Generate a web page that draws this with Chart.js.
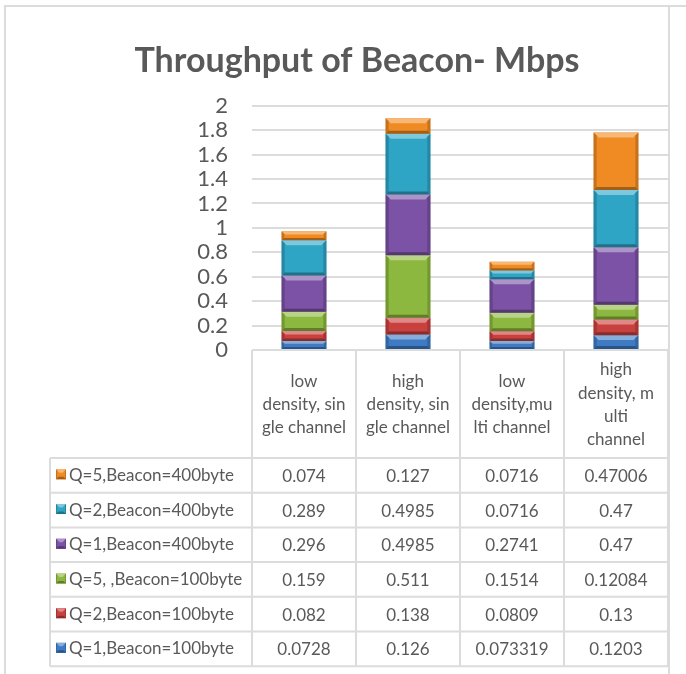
<!DOCTYPE html>
<html>
<head>
<meta charset="utf-8">
<title>Throughput of Beacon- Mbps</title>
<script src="https://cdn.jsdelivr.net/npm/chart.js@4.4.1/dist/chart.umd.min.js"></script>
<style>
  html, body { margin: 0; padding: 0; background: #ffffff; }
  canvas { display: block; }
</style>
</head>
<body>
<canvas id="chart" width="686" height="674"></canvas>
<script>
// Category labels, already wrapped the way the table header shows them
const categories = [
  ['low', 'density, sin', 'gle channel'],
  ['high', 'density, sin', 'gle channel'],
  ['low', 'density,mu', 'lti channel'],
  ['high', 'density, m', 'ulti', 'channel']
];

// Series, bottom of the stack first
const seriesNames = [
  'Q=1,Beacon=100byte',
  'Q=2,Beacon=100byte',
  'Q=5, ,Beacon=100byte',
  'Q=1,Beacon=400byte',
  'Q=2,Beacon=400byte',
  'Q=5,Beacon=400byte'
];
const q1Beacon100 = [0.0728, 0.126, 0.073319, 0.1203];
const q2Beacon100 = [0.082, 0.138, 0.0809, 0.13];
const q5Beacon100 = [0.159, 0.511, 0.1514, 0.12084];
const q1Beacon400 = [0.296, 0.4985, 0.2741, 0.47];
const q2Beacon400 = [0.289, 0.4985, 0.0716, 0.47];
const q5Beacon400 = [0.074, 0.127, 0.0716, 0.47006];
const seriesValues = [q1Beacon100, q2Beacon100, q5Beacon100, q1Beacon400, q2Beacon400, q5Beacon400];
const seriesColors = ['#3E7BC4', '#C9413E', '#8DB83F', '#7B52A5', '#2FA5C6', '#F08B24'];

// Value axis ticks
const yTickValues = [0, 0.2, 0.4, 0.6, 0.8, 1, 1.2, 1.4, 1.6, 1.8, 2];
const yTickLabels = ['0', '0.2', '0.4', '0.6', '0.8', '1', '1.2', '1.4', '1.6', '1.8', '2'];

const TEXT = '#595959';
const LINE = '#dcdcdc';
const FONT = 'Lato, "Open Sans", sans-serif';

// Header row height of the data table and height of each value row
const HEADER_H = 108;
const ROW_H = 34.7;
const LEGEND_LEFT = 50;
const PAD_LEFT = 46;

function shade(hex, amt) {
  const n = parseInt(hex.slice(1), 16);
  let r = (n >> 16) & 255, g = (n >> 8) & 255, b = n & 255;
  const f = v => Math.max(0, Math.min(255, Math.round(amt >= 0 ? v + (255 - v) * amt : v * (1 + amt))));
  return 'rgb(' + f(r) + ',' + f(g) + ',' + f(b) + ')';
}

// Soft bevel drawn over a rectangle
function bevel(ctx, left, top, w, h, color) {
  const right = left + w, bottom = top + h;
  const t = Math.min(5, h * 0.35);
  const s = Math.min(3, w * 0.1, h * 0.3);
  const bt = Math.min(3, h * 0.25);
  ctx.save();
  ctx.fillStyle = shade(color, 0.38);
  ctx.beginPath();
  ctx.moveTo(left, top); ctx.lineTo(right, top);
  ctx.lineTo(right - t, top + t); ctx.lineTo(left + t, top + t);
  ctx.closePath(); ctx.fill();
  ctx.fillStyle = shade(color, -0.18);
  ctx.beginPath();
  ctx.moveTo(left, top); ctx.lineTo(left + s, top + s);
  ctx.lineTo(left + s, bottom - s); ctx.lineTo(left, bottom);
  ctx.closePath(); ctx.fill();
  ctx.beginPath();
  ctx.moveTo(right, top); ctx.lineTo(right - s, top + s);
  ctx.lineTo(right - s, bottom - s); ctx.lineTo(right, bottom);
  ctx.closePath(); ctx.fill();
  ctx.fillStyle = shade(color, -0.32);
  ctx.beginPath();
  ctx.moveTo(left, bottom); ctx.lineTo(right, bottom);
  ctx.lineTo(right - bt, bottom - bt); ctx.lineTo(left + bt, bottom - bt);
  ctx.closePath(); ctx.fill();
  ctx.restore();
}

const framePlugin = {
  id: 'frame',
  beforeDraw(chart) {
    const ctx = chart.ctx;
    ctx.save();
    ctx.strokeStyle = LINE;
    ctx.lineWidth = 2;
    ctx.beginPath();
    ctx.moveTo(4, 6); ctx.lineTo(686, 6);
    ctx.moveTo(5, 6); ctx.lineTo(5, 674);
    ctx.moveTo(669, 6); ctx.lineTo(669, 674);
    ctx.stroke();
    ctx.restore();
  }
};

const bevelPlugin = {
  id: 'bevel',
  afterDatasetsDraw(chart) {
    const ctx = chart.ctx;
    chart.data.datasets.forEach((ds, i) => {
      chart.getDatasetMeta(i).data.forEach(el => {
        const p = el.getProps(['x', 'y', 'base', 'width'], true);
        const top = Math.min(p.y, p.base);
        const h = Math.abs(p.base - p.y);
        bevel(ctx, p.x - p.width / 2, top, p.width, h, ds.backgroundColor);
      });
    });
  }
};

// Data table under the plot: grid, legend keys, series names and values
const tablePlugin = {
  id: 'dataTable',
  afterDraw(chart) {
    const ctx = chart.ctx;
    const xs = chart.scales.x;
    const area = chart.chartArea;
    const colW = (area.right - area.left) / categories.length;
    const top = area.bottom;
    const rowsTop = top + HEADER_H;
    const nRows = seriesNames.length;
    const bottom = rowsTop + ROW_H * nRows;

    ctx.save();
    ctx.strokeStyle = LINE;
    ctx.lineWidth = 2;
    ctx.beginPath();
    ctx.moveTo(area.left, top); ctx.lineTo(area.right, top);
    for (let r = 0; r <= nRows; r++) {
      const y = rowsTop + r * ROW_H;
      ctx.moveTo(LEGEND_LEFT, y); ctx.lineTo(area.right, y);
    }
    for (let c = 0; c <= categories.length; c++) {
      const x = c < categories.length ? xs.getPixelForValue(c) - colW / 2 : xs.getPixelForValue(c - 1) + colW / 2;
      ctx.moveTo(x, top); ctx.lineTo(x, bottom);
    }
    ctx.moveTo(LEGEND_LEFT, rowsTop); ctx.lineTo(LEGEND_LEFT, bottom);
    ctx.stroke();

    ctx.font = '17px ' + FONT;
    ctx.fillStyle = TEXT;
    ctx.textBaseline = 'middle';
    for (let r = 0; r < nRows; r++) {
      const s = nRows - 1 - r;
      const cy = rowsTop + r * ROW_H + ROW_H / 2;
      const color = seriesColors[s];
      ctx.fillStyle = color;
      ctx.fillRect(56, cy - 6, 10, 10);
      bevel(ctx, 56, cy - 6, 10, 10, color);
      ctx.fillStyle = TEXT;
      ctx.textAlign = 'left';
      ctx.fillText(seriesNames[s], 69, cy);
      ctx.textAlign = 'center';
      seriesValues[s].forEach((v, c) => {
        ctx.fillText(String(v), xs.getPixelForValue(c), cy + 1);
      });
    }
    ctx.restore();
  }
};

new Chart(document.getElementById('chart'), {
  type: 'bar',
  data: {
    labels: categories,
    datasets: seriesNames.map((name, i) => ({
      label: name,
      data: seriesValues[i],
      backgroundColor: seriesColors[i],
      borderWidth: 0,
      categoryPercentage: 1,
      barPercentage: 0.43
    }))
  },
  options: {
    responsive: false,
    animation: false,
    devicePixelRatio: 1,
    layout: { padding: { left: PAD_LEFT, right: 18, top: 0, bottom: 0 } },
    plugins: {
      legend: { display: false },
      tooltip: { enabled: false },
      title: {
        display: true,
        text: 'Throughput of Beacon- Mbps',
        color: TEXT,
        font: { family: FONT, size: 34, weight: 'bold', lineHeight: 1.2 },
        padding: { top: 41, bottom: 24 }
      }
    },
    scales: {
      x: {
        stacked: true,
        grid: { display: false, drawTicks: false },
        border: { display: false },
        ticks: {
          color: TEXT,
          font: { family: FONT, size: 17, lineHeight: 1.36 },
          maxRotation: 0,
          autoSkip: false,
          crossAlign: 'center',
          padding: 20
        },
        afterFit(scale) { scale.height = 674 - 350; }
      },
      y: {
        stacked: true,
        min: 0,
        max: 2,
        grid: { color: LINE, lineWidth: 2, drawTicks: false },
        border: { display: false },
        afterBuildTicks(scale) { scale.ticks = yTickValues.map(v => ({ value: v })); },
        ticks: {
          color: TEXT,
          font: { family: FONT, size: 22 },
          padding: 24,
          autoSkip: false,
          callback: (v, i) => yTickLabels[i]
        },
        afterFit(scale) { scale.width = 252 - PAD_LEFT; }
      }
    }
  },
  plugins: [framePlugin, bevelPlugin, tablePlugin]
});
</script>
</body>
</html>
